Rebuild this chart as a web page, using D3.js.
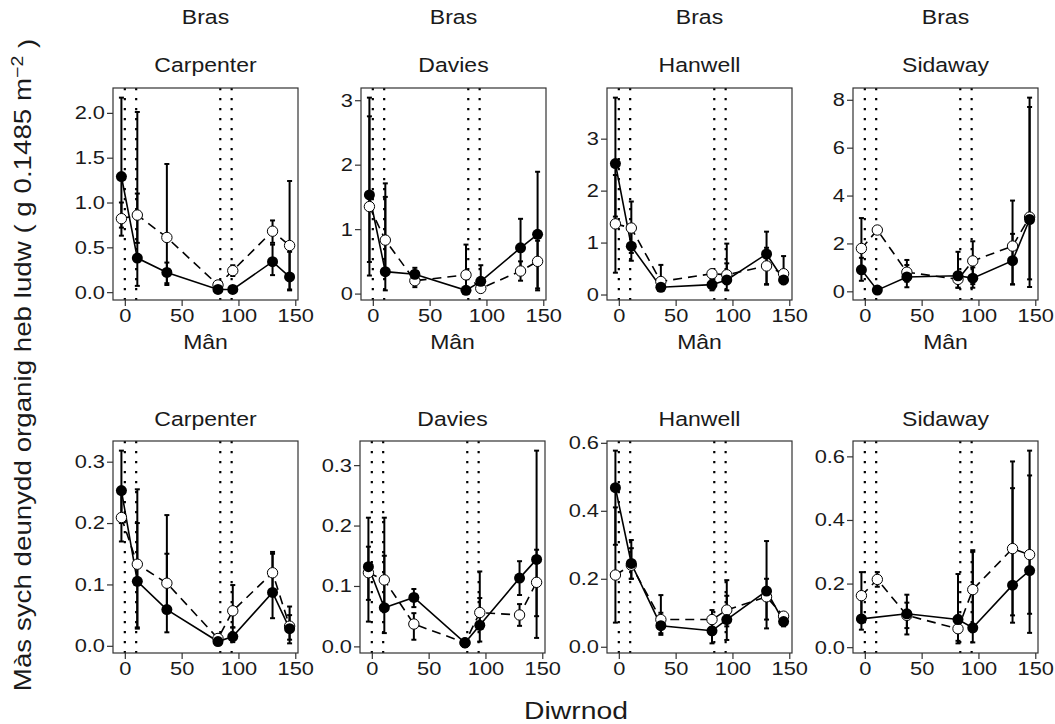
<!DOCTYPE html>
<html>
<head>
<meta charset="utf-8">
<script src="https://cdn.jsdelivr.net/npm/d3@7"></script>
<style>
  body { margin: 0; background: #fff; }
  text { font-family: "Liberation Sans", Arial, sans-serif; }
</style>
</head>
<body>
<div id="chart"></div>
<script>
// days of sampling and the dotted reference days
var days = [-3, 11, 37, 82, 95, 130, 145];
var vlineDays = [0, 10, 84, 94];
var xTicks = [0, 50, 100, 150];

var sizes = ["Bras", "Mân"];
var sites = ["Carpenter", "Davies", "Hanwell", "Sidaway"];

// one row per panel: Bras Carpenter, Davies, Hanwell, Sidaway, Mân Carpenter, Davies, Hanwell, Sidaway
var solidMean = [
  [1.29, 0.38, 0.22, 0.03, 0.03, 0.34, 0.17],
  [1.53, 0.34, 0.30, 0.05, 0.19, 0.71, 0.92],
  [2.52, 0.93, 0.14, 0.19, 0.28, 0.78, 0.28],
  [0.90, 0.05, 0.60, 0.65, 0.55, 1.28, 3.00],
  [0.253, 0.105, 0.059, 0.007, 0.015, 0.087, 0.028],
  [0.132, 0.064, 0.081, 0.006, 0.035, 0.113, 0.144],
  [0.468, 0.245, 0.062, 0.047, 0.080, 0.164, 0.074],
  [0.089, null, 0.105, 0.087, 0.061, 0.195, 0.241]
];
var solidLo = [
  [0.72, 0.07, 0.08, 0.02, 0.02, 0.19, 0.02],
  [0.28, 0.05, 0.15, 0.05, 0.05, 0.30, 0.08],
  [1.50, 0.65, 0.08, 0.08, 0.08, 0.19, 0.20],
  [0.44, 0.04, 0.17, 0.15, 0.15, 0.29, 0.18],
  [0.200, 0.028, 0.022, 0.004, 0.006, 0.045, 0.004],
  [0.041, 0.022, 0.065, 0.005, 0.008, 0.085, 0.014],
  [0.300, 0.200, 0.035, 0.010, 0.020, 0.054, 0.060],
  [0.055, null, 0.040, 0.012, 0.015, 0.077, 0.045]
];
var solidHi = [
  [2.17, 2.01, 0.33, 0.05, 0.05, 0.53, 0.45],
  [3.04, 1.71, 0.40, 0.08, 0.44, 1.16, 1.89],
  [3.79, 1.20, 0.25, 0.30, 0.98, 1.21, 0.40],
  [1.40, 0.06, 1.31, 1.65, 1.00, 2.40, 8.09],
  [0.318, 0.255, 0.213, 0.010, 0.030, 0.153, 0.064],
  [0.213, 0.213, 0.095, 0.008, 0.124, 0.141, 0.324],
  [0.577, 0.314, 0.100, 0.090, 0.196, 0.311, 0.090],
  [0.150, null, 0.165, 0.230, 0.305, 0.584, 0.618]
];
var openMean = [
  [0.82, 0.86, 0.61, 0.08, 0.24, 0.68, 0.52],
  [1.35, 0.83, 0.20, 0.29, 0.08, 0.35, 0.50],
  [1.36, 1.28, 0.25, 0.40, 0.38, 0.55, 0.40],
  [1.79, 2.56, 0.80, 0.50, 1.27, 1.89, 3.10],
  [0.209, 0.133, 0.102, 0.012, 0.057, 0.119, 0.032],
  [0.122, 0.110, 0.037, 0.006, 0.056, 0.052, 0.106],
  [0.211, 0.240, 0.080, 0.080, 0.108, 0.147, 0.090],
  [0.162, 0.213, 0.100, 0.058, 0.181, 0.310, 0.291]
];
var openLo = [
  [0.63, 0.55, 0.10, 0.04, 0.18, 0.55, 0.03],
  [0.49, 0.30, 0.10, 0.05, 0.05, 0.20, 0.05],
  [0.42, 0.80, 0.08, 0.25, 0.20, 0.20, 0.25],
  [0.80, 2.40, 0.40, 0.15, 0.30, 0.29, 0.50],
  [0.170, 0.030, 0.060, 0.008, 0.030, 0.090, 0.010],
  [0.077, 0.060, 0.011, 0.005, 0.030, 0.034, 0.050],
  [0.071, 0.200, 0.040, 0.050, 0.060, 0.080, 0.080],
  [0.100, 0.190, 0.060, 0.020, 0.050, 0.100, 0.105]
];
var openHi = [
  [1.00, 1.10, 1.43, 0.12, 0.30, 0.80, 1.24],
  [2.75, 1.50, 0.30, 0.76, 0.15, 0.50, 0.82],
  [2.30, 1.79, 0.57, 0.45, 0.60, 0.90, 0.74],
  [3.06, 2.70, 1.10, 0.80, 2.09, 3.79, 7.70],
  [0.250, 0.200, 0.150, 0.016, 0.099, 0.150, 0.050],
  [0.165, 0.150, 0.055, 0.008, 0.080, 0.070, 0.160],
  [0.410, 0.290, 0.152, 0.108, 0.150, 0.200, 0.100],
  [0.236, 0.236, 0.140, 0.100, 0.300, 0.500, 0.540]
];
var yTicks = [
  [0, 0.5, 1, 1.5, 2],
  [0, 1, 2, 3],
  [0, 1, 2, 3],
  [0, 2, 4, 6, 8],
  [0, 0.1, 0.2, 0.3],
  [0, 0.1, 0.2, 0.3],
  [0, 0.2, 0.4, 0.6],
  [0, 0.2, 0.4, 0.6]
];

var width = 1055, height = 724;
var panelLeft = [[113, 361, 607, 853], [113, 360, 607, 853]],
    panelTop = [88, 441],
    panelW = 185,
    panelH = 212,
    titleGap = [[64, 16.5], [92.5, 15.5]];

var ink = "#1a1a1a";
var stretchX = 1.18;   // the original lettering is a little wider than Arial

var svg = d3.select("#chart").append("svg")
    .attr("width", width)
    .attr("height", height);

function expand(ext) {
    var pad = (ext[1] - ext[0]) * 0.05;
    return [ext[0] - pad, ext[1] + pad];
}

function rows(p, mean, lo, hi) {
    return days.map(function(d, i) {
        return {day: d, y: mean[p][i], lo: lo[p][i], hi: hi[p][i]};
    }).filter(function(d) { return d.y != null; });
}

// move x/y into a transform so the text can be widened round its anchor
function widen(sel) {
    sel.each(function() {
        var t = d3.select(this);
        var tx = +t.attr("x") || 0, ty = +t.attr("y") || 0;
        t.attr("x", 0).attr("y", 0)
         .attr("transform", "translate(" + tx + "," + ty + ") scale(" + stretchX + ",1)");
    });
}

function drawPanel(r, c) {
    var p = r * 4 + c;
    var px = panelLeft[r][c], py = panelTop[r];

    var solid = rows(p, solidMean, solidLo, solidHi);
    var open = rows(p, openMean, openLo, openHi);
    var all = solid.concat(open);

    var x = d3.scaleLinear()
        .domain(expand(d3.extent(days)))
        .range([0, panelW]);

    var yExt = [d3.min(all, function(d) { return Math.min(d.lo, d.y); }),
                d3.max(all, function(d) { return Math.max(d.hi, d.y); })];
    var y = d3.scaleLinear()
        .domain(expand(yExt))
        .range([panelH, 0]);

    var g = svg.append("g")
        .attr("transform", "translate(" + px + "," + py + ")");

    // titles
    svg.append("text")
        .attr("x", px + panelW / 2)
        .attr("y", py - titleGap[r][0])
        .attr("text-anchor", "middle")
        .style("font-size", "19.5px")
        .style("fill", ink)
        .text(sizes[r])
        .call(widen);
    svg.append("text")
        .attr("x", px + panelW / 2)
        .attr("y", py - titleGap[r][1])
        .attr("text-anchor", "middle")
        .style("font-size", "19.5px")
        .style("fill", ink)
        .text(sites[c])
        .call(widen);

    // dotted reference lines
    g.selectAll(".vline")
        .data(vlineDays)
        .enter().append("line")
        .attr("x1", function(d) { return x(d); })
        .attr("x2", function(d) { return x(d); })
        .attr("y1", 0)
        .attr("y2", panelH)
        .attr("stroke", "#000")
        .attr("stroke-width", 2.2)
        .attr("stroke-dasharray", "2.2 7.8");

    var line = d3.line()
        .x(function(d) { return x(d.day); })
        .y(function(d) { return y(d.y); });

    g.append("path")
        .datum(open)
        .attr("d", line)
        .attr("fill", "none")
        .attr("stroke", "#000")
        .attr("stroke-width", 1.6)
        .attr("stroke-dasharray", "9 6");

    g.append("path")
        .datum(solid)
        .attr("d", line)
        .attr("fill", "none")
        .attr("stroke", "#000")
        .attr("stroke-width", 1.6);

    // error bars
    var bars = g.selectAll(".bar")
        .data(all)
        .enter().append("g");
    bars.append("line")
        .attr("x1", function(d) { return x(d.day); })
        .attr("x2", function(d) { return x(d.day); })
        .attr("y1", function(d) { return y(d.lo); })
        .attr("y2", function(d) { return y(d.hi); })
        .attr("stroke", "#000")
        .attr("stroke-width", 2);
    ["lo", "hi"].forEach(function(k) {
        bars.append("line")
            .attr("x1", function(d) { return x(d.day) - 2.5; })
            .attr("x2", function(d) { return x(d.day) + 2.5; })
            .attr("y1", function(d) { return y(d[k]); })
            .attr("y2", function(d) { return y(d[k]); })
            .attr("stroke", "#000")
            .attr("stroke-width", 2);
    });

    g.selectAll(".open")
        .data(open)
        .enter().append("circle")
        .attr("cx", function(d) { return x(d.day); })
        .attr("cy", function(d) { return y(d.y); })
        .attr("r", 5.2)
        .attr("fill", "#fff")
        .attr("stroke", "#000")
        .attr("stroke-width", 1);

    g.selectAll(".solid")
        .data(solid)
        .enter().append("circle")
        .attr("cx", function(d) { return x(d.day); })
        .attr("cy", function(d) { return y(d.y); })
        .attr("r", 5.5)
        .attr("fill", "#000");

    g.append("rect")
        .attr("width", panelW)
        .attr("height", panelH)
        .attr("fill", "none")
        .attr("stroke", "#333")
        .attr("stroke-width", 1.2);

    // axes
    var fmt = yTicks[p].some(function(t) { return t % 1 !== 0; }) ? d3.format(".1f") : d3.format("d");

    var yAxis = g.append("g")
        .call(d3.axisLeft(y).tickValues(yTicks[p]).tickFormat(fmt).tickSize(6).tickPadding(2));
    var xAxis = g.append("g")
        .attr("transform", "translate(0," + panelH + ")")
        .call(d3.axisBottom(x).tickValues(xTicks).tickSize(6).tickPadding(3));

    [yAxis, xAxis].forEach(function(a) {
        a.select(".domain").remove();
        a.selectAll(".tick line").attr("stroke", "#333").attr("stroke-width", 1.2);
        a.selectAll(".tick text")
            .style("font-size", "18.5px")
            .style("font-family", "'Liberation Sans', Arial, sans-serif")
            .attr("fill", ink)
            .call(widen);
    });
}

for (var r = 0; r < 2; r++) {
    for (var c = 0; c < 4; c++) {
        drawPanel(r, c);
    }
}

// axis titles
svg.append("text")
    .attr("x", 576)
    .attr("y", 719)
    .attr("text-anchor", "middle")
    .style("font-size", "24px")
    .style("fill", ink)
    .text("Diwrnod")
    .call(widen);

var yTitle = svg.append("text")
    .attr("transform", "translate(31,365) rotate(-90) scale(" + stretchX + ",1)")
    .attr("text-anchor", "middle")
    .style("font-size", "23.5px")
    .style("fill", ink);
yTitle.append("tspan").text("Màs sych deunydd organig heb ludw ( g 0.1485 m");
yTitle.append("tspan").attr("dy", "-0.5em").style("font-size", "16.5px").text("−2");
yTitle.append("tspan").attr("dy", "0.5em").text(" )");
</script>
</body>
</html>
